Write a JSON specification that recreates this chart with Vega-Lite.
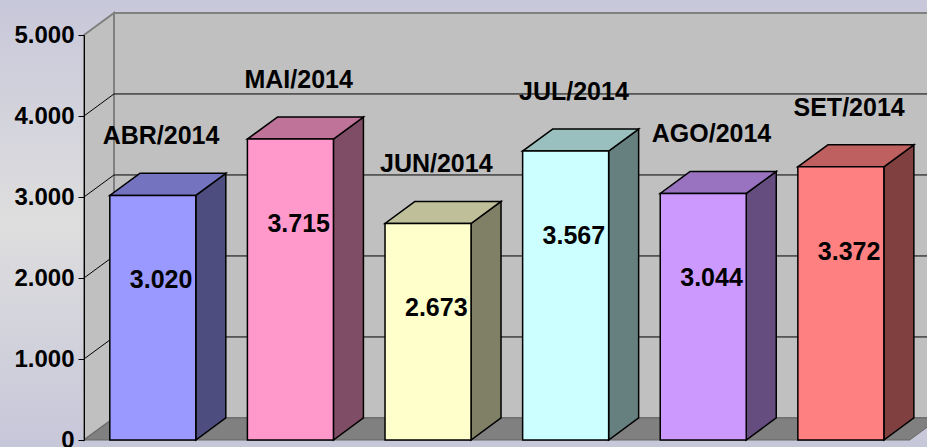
{
  "$schema": "https://vega.github.io/schema/vega-lite/v6.json",
  "width": 843,
  "height": 405,
  "autosize": {"type": "none"},
  "padding": {"left": 84, "top": 35, "right": 0, "bottom": 7},
  "background": "#c8c8dc",
  "datasets": {
    "bars": [
      {"mes": "ABR/2014", "valor": 3020},
      {"mes": "MAI/2014", "valor": 3715},
      {"mes": "JUN/2014", "valor": 2673},
      {"mes": "JUL/2014", "valor": 3567},
      {"mes": "AGO/2014", "valor": 3044},
      {"mes": "SET/2014", "valor": 3372}
    ],
    "ticks": [{"v": 1000}, {"v": 2000}, {"v": 3000}, {"v": 4000}]
  },
  "resolve": {"scale": {"fill": "independent"}},
  "layer": [
    {
      "data": {"name": "bars"},
      "transform": [
        {"window": [{"op": "row_number", "as": "i"}]},
        {"calculate": "[0,1]", "as": "ks"},
        {"flatten": ["ks"], "as": ["k"]},
        {"calculate": "-0.5 + datum.k*0.218", "as": "sx"},
        {"calculate": "5000 + datum.k*272", "as": "sy"},
        {"calculate": "datum.k*272", "as": "yb"}
      ],
      "layer": [
        {
          "transform": [{"filter": "datum.i == 1 && datum.k == 0"}],
          "mark": {
            "type": "rect",
            "fill": {
              "gradient": "linear", "x1": 0, "y1": 0, "x2": 0, "y2": 1,
              "stops": [
                {"offset": 0, "color": "#c6c6da"},
                {"offset": 0.5, "color": "#dedede"},
                {"offset": 1, "color": "#c6c6da"}
              ]
            }
          },
          "encoding": {
            "x": {"datum": -1.2, "type": "quantitative", "scale": {"domain": [-0.5, 5.626], "nice": false, "zero": false}, "axis": null},
            "x2": {"datum": 7},
            "y": {
              "datum": -200, "type": "quantitative",
              "scale": {"domain": [0, 5000], "nice": false},
              "axis": {
                "values": [0, 1000, 2000, 3000, 4000, 5000],
                "labelExpr": "replace(format(datum.value, ','), ',', '.')",
                "grid": false, "title": null, "zindex": 2,
                "domainColor": "#000000", "domainWidth": 1,
                "tickColor": "#000000", "tickSize": 6, "tickWidth": 1,
                "labelFont": "Liberation Sans", "labelFontWeight": "bold", "labelFontSize": 24,
                "labelColor": "#000000", "labelPadding": 4,
                "labelFlush": false, "labelOverlap": false
              }
            },
            "y2": {"datum": 5600}
          }
        },
        {
          "transform": [{"filter": "datum.i == 1 && datum.k == 0"}],
          "mark": {"type": "rect", "fill": "#c0c0c0", "stroke": "#808080", "strokeWidth": 2},
          "encoding": {
            "x": {"datum": -0.282, "type": "quantitative"},
            "x2": {"datum": 7},
            "y": {"datum": 272, "type": "quantitative"},
            "y2": {"datum": 5272}
          }
        },
        {
          "transform": [{"filter": "datum.i == 1"}],
          "mark": {"type": "area", "orient": "vertical", "fill": "#c0c0c0", "stroke": "#808080", "strokeWidth": 2},
          "encoding": {
            "x": {"field": "sx", "type": "quantitative"},
            "y": {"field": "sy", "type": "quantitative"},
            "y2": {"field": "yb"}
          }
        }
      ]
    },
    {
      "data": {"name": "ticks"},
      "transform": [{"calculate": "datum.v + 272", "as": "vb"}],
      "layer": [
        {
          "mark": {"type": "rule", "stroke": "#000000", "strokeWidth": 1},
          "encoding": {
            "x": {"datum": -0.282, "type": "quantitative"},
            "x2": {"datum": 7},
            "y": {"field": "vb", "type": "quantitative"}
          }
        },
        {
          "mark": {"type": "rule", "stroke": "#000000", "strokeWidth": 1},
          "encoding": {
            "x": {"datum": -0.5, "type": "quantitative"},
            "x2": {"datum": -0.282},
            "y": {"field": "v", "type": "quantitative"},
            "y2": {"field": "vb"}
          }
        }
      ]
    },
    {
      "data": {"name": "bars"},
      "transform": [
        {"window": [{"op": "row_number", "as": "i"}]},
        {"calculate": "datum.i - 1", "as": "c"},
        {"calculate": "[0,1]", "as": "ks"},
        {"flatten": ["ks"], "as": ["k"]},
        {"calculate": "datum.c - 0.3125", "as": "xl"},
        {"calculate": "datum.c + 0.3125", "as": "xr"},
        {"calculate": "datum.c + 0.06", "as": "xt"},
        {"calculate": "datum.valor + datum.k*272", "as": "yt"},
        {"calculate": "datum.k*272", "as": "yb"},
        {"calculate": "datum.xl + datum.k*0.218", "as": "xlt"},
        {"calculate": "datum.xr + datum.k*0.218", "as": "xrt"},
        {"calculate": "-0.5 + datum.k*0.218", "as": "fx1"},
        {"calculate": "5.5 + datum.k*0.218", "as": "fx2"},
        {"calculate": "replace(format(datum.valor, ','), ',', '.')", "as": "lbl"}
      ],
      "resolve": {"scale": {"fill": "independent"}},
      "layer": [
        {
          "transform": [{"filter": "datum.i == 1"}],
          "mark": {"type": "area", "orient": "horizontal", "fill": "#808080", "stroke": "#666666", "strokeWidth": 1},
          "encoding": {
            "y": {"field": "yb", "type": "quantitative"},
            "x": {"field": "fx1", "type": "quantitative"},
            "x2": {"field": "fx2"}
          }
        },
        {
          "mark": {"type": "area", "orient": "vertical", "stroke": "#000000", "strokeWidth": 1.5, "fillOpacity": 1},
          "encoding": {
            "x": {"field": "xrt", "type": "quantitative"},
            "y": {"field": "yt", "type": "quantitative"},
            "y2": {"field": "yb"},
            "fill": {
              "field": "mes", "type": "nominal", "legend": null,
              "scale": {
                "domain": ["ABR/2014", "MAI/2014", "JUN/2014", "JUL/2014", "AGO/2014", "SET/2014"],
                "range": ["#4d4d80", "#804d66", "#808066", "#668080", "#664d80", "#804040"]
              }
            }
          }
        },
        {
          "mark": {"type": "area", "orient": "horizontal", "stroke": "#000000", "strokeWidth": 1.5, "fillOpacity": 1},
          "encoding": {
            "y": {"field": "yt", "type": "quantitative"},
            "x": {"field": "xlt", "type": "quantitative"},
            "x2": {"field": "xrt"},
            "fill": {
              "field": "mes", "type": "nominal", "legend": null,
              "scale": {
                "domain": ["ABR/2014", "MAI/2014", "JUN/2014", "JUL/2014", "AGO/2014", "SET/2014"],
                "range": ["#7373bf", "#bf7399", "#bfbf99", "#99bfbf", "#9973bf", "#bf6060"]
              }
            }
          }
        },
        {
          "transform": [{"filter": "datum.k == 0"}],
          "mark": {"type": "rect", "stroke": "#000000", "strokeWidth": 1.5},
          "encoding": {
            "x": {"field": "xl", "type": "quantitative"},
            "x2": {"field": "xr"},
            "y": {"field": "valor", "type": "quantitative"},
            "y2": {"datum": 0},
            "fill": {
              "field": "mes", "type": "nominal", "legend": null,
              "scale": {
                "domain": ["ABR/2014", "MAI/2014", "JUN/2014", "JUL/2014", "AGO/2014", "SET/2014"],
                "range": ["#9999ff", "#ff99cc", "#ffffcc", "#ccffff", "#cc99ff", "#ff8080"]
              }
            }
          }
        },
        {
          "transform": [{"filter": "datum.k == 0"}],
          "mark": {"type": "text", "font": "Liberation Sans", "fontWeight": "bold", "fontSize": 25, "color": "#000000", "align": "center", "baseline": "middle", "dy": -59},
          "encoding": {
            "x": {"field": "xt", "type": "quantitative"},
            "y": {"field": "valor", "type": "quantitative"},
            "text": {"field": "mes"}
          }
        },
        {
          "transform": [{"filter": "datum.k == 0"}],
          "mark": {"type": "text", "font": "Liberation Sans", "fontWeight": "bold", "fontSize": 25, "color": "#000000", "align": "center", "baseline": "middle", "dy": 85},
          "encoding": {
            "x": {"field": "xt", "type": "quantitative"},
            "y": {"field": "valor", "type": "quantitative"},
            "text": {"field": "lbl"}
          }
        }
      ]
    }
  ]
}
